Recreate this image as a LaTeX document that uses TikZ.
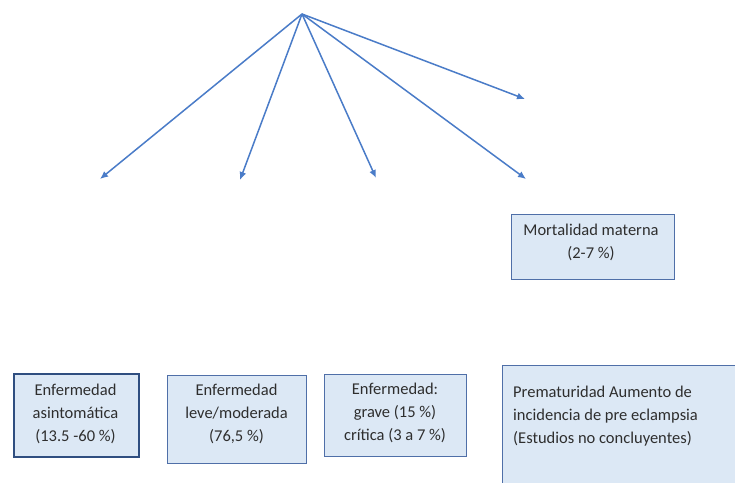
\documentclass[tikz,border=0pt]{standalone}
\usepackage{fontspec}
\setmainfont{Carlito}
\usetikzlibrary{arrows.meta}
\definecolor{arrowblue}{HTML}{4A7CC8}
\definecolor{boxfill}{HTML}{DCE8F5}
\definecolor{boxline}{HTML}{4F6FA8}
\definecolor{boxdark}{HTML}{2F4E80}
\tikzset{
  conn/.style={draw=arrowblue, line width=1.5pt, -{Latex[length=8pt,width=7pt]}},
  box/.style={draw=boxline, fill=boxfill, line width=1.2pt, anchor=north west, inner sep=0pt},
  txt/.style={font=\fontsize{16.5}{23}\selectfont, text=black!82, inner sep=0pt},
}
\begin{document}
\begin{tikzpicture}[x=1pt,y=-1pt]
\useasboundingbox[fill=white] (0,0) rectangle (735,482);
\coordinate (src) at (302,14);
\coordinate (e1) at (100,179);
\coordinate (e2) at (240,180);
\coordinate (e3) at (376,178);
\coordinate (e4) at (526,179);
\coordinate (e5) at (525,99);
\foreach \e in {e1,e2,e3,e4,e5} \draw[conn] (src) -- (\e);
% boxes
\node[box, minimum width=163pt, minimum height=65pt] (bm) at (511,214) {};
\node[box, draw=boxdark, line width=1.9pt, minimum width=125pt, minimum height=83pt] (b1) at (13,373) {};
\node[box, minimum width=139pt, minimum height=88pt] (b2) at (167,375) {};
\node[box, minimum width=142pt, minimum height=82pt] (b3) at (324,374) {};
\node[box, minimum width=260pt, minimum height=140pt] (b4) at (502,365) {};
% texts
\node[txt, align=center] (tm) at (591,242.5) {Mortalidad materna\\(2-7 \%)};
\node[txt, align=center] (t1) at (75.5,413.5) {Enfermedad\\asintomática\\(13.5 -60 \%)};
\node[txt, align=center] (t2) at (236.5,413.5) {Enfermedad\\leve/moderada\\(76,5 \%)};
\node[txt, align=center] (t3) at (395,413) {Enfermedad:\\grave (15 \%)\\crítica (3 a 7 \%)};
\node[txt, align=left, anchor=west] (t4) at (513,416) {Prematuridad Aumento de\\incidencia de pre eclampsia\\(Estudios no concluyentes)};
\end{tikzpicture}
\end{document}
